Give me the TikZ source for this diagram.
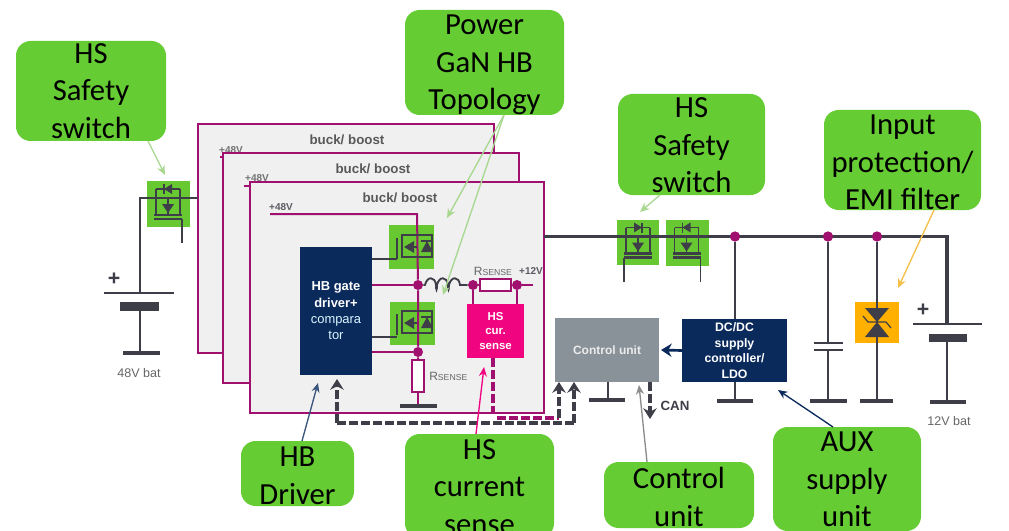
\documentclass[tikz,border=0pt]{standalone}
\usepackage{fontspec}
\setmainfont{Liberation Sans}
\newfontfamily\calib{Carlito}
\usetikzlibrary{arrows.meta}
\definecolor{calloutgreen}{HTML}{66CC33}
\definecolor{fetgreen}{HTML}{68C832}
\definecolor{framepurple}{HTML}{A0106E}
\definecolor{framefill}{HTML}{F0F0F1}
\definecolor{darkline}{HTML}{3E3E48}
\definecolor{navyblock}{HTML}{0A2A5C}
\definecolor{pinkblock}{HTML}{F0047F}
\definecolor{grayblock}{HTML}{8A9299}
\definecolor{tvsorange}{HTML}{FFB000}
\definecolor{softgreen}{HTML}{A8D890}
\definecolor{softorange}{HTML}{F5C04A}
\tikzset{
  wh/.style 2 args={minimum width=#1*0.75pt,minimum height=#2*0.75pt,inner sep=0pt,outer sep=0pt},
  callout/.style={fill=calloutgreen,rounded corners=11pt},
  calltext/.style={align=center,text=black,inner sep=0pt,
    font=\calib\fontsize{23}{28.2}\selectfont},
  frame/.style={draw=framepurple,fill=framefill,line width=1.5pt},
  fetbox/.style={fill=fetgreen},
  wire/.style={draw=darkline,line width=2pt},
  thinwire/.style={draw=darkline,line width=1.2pt},
  pwire/.style={draw=framepurple,line width=1.5pt},
  plate/.style={draw=darkline,line width=3.6pt},
  plateb/.style={draw=darkline,line width=6.5pt},
  thinplate/.style={draw=darkline,line width=1.8pt},
  jdot/.style={circle,fill=framepurple,minimum size=7.5pt,inner sep=0pt},
  blocktext/.style={align=center,text=white,font=\bfseries\fontsize{9.3}{11.7}\selectfont},
  smalllabel/.style={text=darkline!85,font=\bfseries\fontsize{7.5}{9}\selectfont,inner sep=0pt},
  batlabel/.style={text=black!60,font=\fontsize{9.4}{11}\selectfont,inner sep=0pt},
  bucklabel/.style={text=black!65,font=\bfseries\fontsize{10}{12}\selectfont,inner sep=0pt},
  rlabel/.style={text=black!60,inner sep=0pt},
  plabel/.style={text=darkline,font=\bfseries\fontsize{16}{16}\selectfont,inner sep=0pt},
  dashw/.style={draw=darkline,line width=2.6pt,dash pattern=on 6.5pt off 2.5pt},
  dashp/.style={draw=framepurple,line width=2.3pt,dash pattern=on 6.5pt off 2.5pt},
  tip/.style={-{Stealth[length=7pt,width=6pt]}},
  bigtip/.style={-{Stealth[length=8pt,width=10pt]}},
}
% switch on the horizontal rails: centre x, rail y, diode direction, gate-stem side
\newcommand\railfet[4]{%
  \begin{scope}[shift={(#1,#2)}]
    \draw[thinwire] (-12,-9) -- (12,-9) (-12,-9) -- (-12,16) (12,-9) -- (12,16);
    \draw[wire] (-14,17) -- (14,17);
    \draw[wire] (-14,21) -- (14,21);
    \draw[thinwire] (#4*14,21) -- (#4*14,45);
    \draw[thinwire] (0,0) -- (0,16);
    \fill[darkline] (-6,6) -- (6,6) -- (0,15) -- cycle;
    \fill[darkline] (-#3*4,-14) -- (-#3*4,-4) -- (#3*4,-9) -- cycle;
    \draw[thinwire] (#3*4,-14) -- (#3*4,-4);
  \end{scope}}
% half-bridge FET: centre of box
\newcommand\hbfet[2]{%
  \begin{scope}[shift={(#1,#2)}]
    \draw[thinwire] (-9,-12) -- (21,-12) -- (21,10) -- (-9,10) -- cycle;
    \draw[wire] (-14,-9) -- (-14,12);
    \fill[darkline] (-7,0) -- (3,-6) -- (3,6) -- cycle;
    \draw[thinwire] (3,0) -- (6,0);
    \fill[darkline] (10,5) -- (22,5) -- (16,-6) -- cycle;
    \draw[thinwire] (10,-6) -- (22,-6);
  \end{scope}}
\begin{document}
\begin{tikzpicture}[x=0.75pt,y=-0.75pt]
\useasboundingbox (0,0) rectangle (1009,531);
\fill[white] (0,0) rectangle (1009,531);

% frames
\node[frame,wh={296}{229}] (frameA) at (346,238.5) {};
\node[smalllabel,text=black!55] (vA) at (231,150) {+48V};
\coordinate (stubA) at (220,157);
\node[frame,wh={296}{230}] (frameB) at (371,268) {};
\node[bucklabel] (buckA) at (347,140) {buck/ boost};
\node[smalllabel,text=black!55] (vB) at (257,178) {+48V};
\coordinate (stubB) at (244,186);
\node[frame,wh={294}{231}] (frameC) at (397,297.5) {};
\node[bucklabel] (buckB) at (373,169) {buck/ boost};
\node[bucklabel] (buckC) at (400,198) {buck/ boost};
\draw[pwire] (stubA) -- (stubA -| frameB.west);
\draw[pwire] (stubB) -- (stubB -| frameC.west);

% callouts
\node[callout,wh={150}{100}] (calLeft) at (91,91) {};
\node[calltext] (txtLeft) at (91,91) {HS\\Safety\\switch};
\node[callout,wh={159}{105}] (calGan) at (484.5,62.5) {};
\node[calltext] (txtGan) at (484.5,65) {Power\\GaN HB\\Topology};
\node[callout,wh={147}{101}] (calMid) at (691.5,144.5) {};
\node[calltext] (txtMid) at (691.5,145.5) {HS\\Safety\\switch};
\node[callout,wh={157}{100}] (calInput) at (902.5,160) {};
\node[calltext] (txtInput) at (902.5,162.5) {Input\\protection/\\EMI filter};
\node[callout,wh={113}{65}] (calHB) at (297.5,473.5) {};
\node[calltext] (txtHB) at (297.5,475.5) {HB\\Driver};
\node[callout,wh={149}{104}] (calCur) at (479.5,486) {};
\node[calltext] (txtCur) at (479.5,487) {HS\\current\\sense};
\node[callout,wh={150}{66}] (calCtl) at (679,495) {};
\node[calltext] (txtCtl) at (679,497) {Control\\unit};
\node[callout,wh={148}{104}] (calAux) at (847,479) {};
\node[calltext] (txtAux) at (847,479.5) {AUX\\supply\\unit};

% left switch and 48 V battery
\node[fetbox,wh={43}{46}] (fetL) at (168.5,204) {};
\coordinate (railL) at (140,198);
\coordinate (plateL) at (140,293);
\coordinate (railLend) at (198,198);
\coordinate (thickL) at (140,306);
\coordinate (gndL) at (140,353);
\draw[wire] (railLend) -- (railL) -- (plateL);
\railfet{168}{198}{-1}{1}
\draw[wire] (104,293) -- (174,293);
\draw[plateb] (120,306.5) -- (159,306.5);
\draw[wire] (thickL) -- (gndL);
\draw[plate] (123,353) -- (160,353);
\node[plabel] (plusL) at (114,279) {+};
\node[batlabel] (batL) at (139,373) {48V bat};

% main rail
\coordinate (railStart) at (544,236.5);
\coordinate (railCorner) at (947,236.5);
\coordinate (plateR) at (947,324);
\node[fetbox,wh={42}{45}] (fetM1) at (638,242.5) {};
\node[fetbox,wh={43}{46}] (fetM2) at (687.5,243) {};
\node[jdot] (jA) at (735,236.5) {};
\node[jdot] (jB) at (828,236.5) {};
\node[jdot] (jC) at (877,236.5) {};
\draw[wire,line width=2.4pt] (railStart) -- (railCorner) -- (plateR);
\railfet{638}{236.5}{1}{-1}
\railfet{686.5}{236.5}{-1}{1}
\node[jdot] at (735,236.5) {};
\node[jdot] at (828,236.5) {};
\node[jdot] at (877,236.5) {};

% half bridge
\node[smalllabel] (vC) at (281,207) {+48V};
\coordinate (vline) at (270,214);
\coordinate (vcorner) at (417,214);
\node[fetbox,wh={45}{44}] (fetT) at (411.5,247) {};
\node[fetbox,wh={45}{43}] (fetB) at (412.5,323.5) {};
\node[jdot] (jSW) at (418,285) {};
\node[jdot] (jLow) at (418,352) {};
\node[draw=framepurple,fill=white,line width=1.5pt,wh={12}{32}] (rLow) at (418,376) {};
\coordinate (gndLow) at (418,406);
\draw[pwire] (vline) -- (vcorner) -- (jSW) -- (jLow) -- (rLow.north);
\draw[pwire] (rLow.south) -- (gndLow);
\draw[plate] (400,406) -- (437,406);
\hbfet{411}{247}
\hbfet{411}{323}
\node[fill=navyblock,wh={72}{128},align=center,text=white] (driver) at (336,311)
  {\fontsize{9.7}{11.7}\selectfont\bfseries HB gate\\[0.3pt]
   \fontsize{9.7}{11.7}\selectfont\bfseries driver+\\[0.3pt]
   \fontsize{9.7}{11.7}\selectfont\mdseries\color{blue!20!cyan!15!white} compara\\[0.3pt]
   \fontsize{9.7}{11.7}\selectfont\mdseries\color{blue!20!cyan!15!white} tor};
\coordinate (gT) at (397,259);
\coordinate (gB) at (397,337);
\coordinate (gTs) at (372,259);
\coordinate (gBs) at (372,337);
\coordinate (pTs) at (372,285);
\coordinate (pBs) at (372,352);
\draw[wire] (gTs) -- (gT);
\draw[wire] (gBs) -- (gB);
\draw[pwire] (pTs) -- (jSW);
\draw[pwire] (pBs) -- (jLow);
\node[rlabel,anchor=west] (rsLow) at (429,376) {\fontsize{9}{10}\selectfont R\fontsize{6.5}{8}\selectfont SENSE};

% inductor
\node[jdot] (jL) at (473,285) {};
\draw[darkline,line width=1.4pt] (jSW) -- (425,285)
  .. controls (427,276) and (435,276) .. (436,285)
  .. controls (436,291) and (437,291) .. (437,285)
  .. controls (439,276) and (447,276) .. (448,285)
  .. controls (448,291) and (449,291) .. (449,285)
  .. controls (451,276) and (459,276) .. (460,285)
  -- (jL);
\node[draw=framepurple,fill=white,line width=1.5pt,wh={31}{12}] (rHigh) at (495.5,285) {};
\node[jdot] (jH) at (517,285) {};
\coordinate (end12) at (533,285);
\draw[pwire] (jL) -- (rHigh.west);
\draw[pwire] (rHigh.east) -- (jH) -- (end12);
\node[rlabel] (rsHigh) at (493,271) {\fontsize{9}{10}\selectfont R\fontsize{6.5}{8}\selectfont SENSE};
\node[smalllabel] (v12) at (531,271) {+12V};
\node[fill=pinkblock,wh={57}{54},blocktext,font=\bfseries\fontsize{8.6}{11}\selectfont] (sense) at (495.5,331) {HS\\cur.\\sense};
\draw[pwire] (jL) -- (sense.north -| jL);
\draw[pwire] (jH) -- (sense.north -| jH);

% control and supply
\node[fill=grayblock,wh={104}{64},blocktext,font=\bfseries\fontsize{9}{11}\selectfont,text=white!92!black] (ctrl) at (607,350) {Control unit};
\node[fill=navyblock,wh={105}{63},blocktext,font=\bfseries\fontsize{9.2}{11.7}\selectfont] (dcdc) at (734.5,350.5) {DC/DC\\supply\\controller/\\LDO};
\draw[wire] (jA) -- (735,319);
\draw[bigtip,draw=navyblock,line width=2pt] (dcdc.west) -- (661,350);
\coordinate (gndCtl) at (608,400);
\coordinate (gndDc) at (735,401);
\draw[wire] (608,382) -- (gndCtl);
\draw[plate] (589,400) -- (625,400);
\draw[wire] (735,382) -- (gndDc);
\draw[plate] (717,401) -- (753,401);

% capacitor
\coordinate (capT) at (828,343);
\coordinate (capB) at (828,350);
\coordinate (gndCap) at (828,401);
\draw[wire] (jB) -- (capT);
\draw[wire] (capB) -- (gndCap);
\draw[thinplate] (814,343) -- (843,343);
\draw[thinplate] (814,350) -- (843,350);
\draw[plate] (810,401) -- (847,401);

% TVS
\node[fill=tvsorange,wh={44}{41}] (tvs) at (877,322.5) {};
\coordinate (gndTvs) at (877,401);
\draw[wire] (jC) -- (gndTvs);
\fill[darkline] (865,308) -- (889,308) -- (877,322) -- cycle;
\fill[darkline] (865,337) -- (889,337) -- (877,322) -- cycle;
\draw[darkline,line width=0.9pt] (863,316) -- (868,322) -- (886,322) -- (891,328);
\draw[plate] (860,401) -- (893,401);

% 12 V battery
\coordinate (thickR) at (947,338);
\coordinate (gndR) at (947,402);
\draw[wire] (913,324) -- (982,324);
\draw[plateb] (929,338) -- (967,338);
\draw[wire] (thickR) -- (gndR);
\draw[plate] (930,402) -- (966,402);
\node[plabel] (plusR) at (923,310) {+};
\node[batlabel] (batR) at (949,421) {12V bat};

% dashed signal lines
\coordinate (dA) at (337,379);
\coordinate (dB) at (337,423);
\coordinate (dC) at (574,423);
\coordinate (dD) at (574,382);
\draw[dashw,bigtip] (dC) -- (dD);
\draw[dashw] (dC) -- (dB);
\draw[dashw,bigtip] (dB) -- (dA);
\coordinate (pA) at (493,413);
\coordinate (pB) at (497,418);
\coordinate (pC) at (559,418);
\coordinate (pD) at (559,382);
\draw[dashp] (sense.south -| pA) -- (pA);
\draw[dashp] (pB) -- (pC);
\draw[dashw,bigtip] (pC) -- (pD);
\coordinate (canA) at (650,382);
\coordinate (canB) at (650,419);
\draw[dashw,bigtip] (canA) -- (canB);
\node[bucklabel,text=darkline] (canL) at (675,406) {CAN};

% callout pointers
\coordinate (tLeft) at (165,175);
\coordinate (sLeft) at (148,141);
\draw[tip,draw=softgreen,line width=1pt] (sLeft) -- (tLeft);
\coordinate (sGan) at (504,115);
\coordinate (tGanA) at (447,218);
\coordinate (tGanB) at (443,295);
\draw[tip,draw=softgreen,line width=1pt] (sGan) -- (tGanA);
\draw[tip,draw=softgreen,line width=1pt] (sGan) -- (tGanB);
\coordinate (sMid) at (660,195);
\coordinate (tMid) at (640,212);
\draw[tip,draw=softgreen,line width=1pt] (sMid) -- (tMid);
\coordinate (sIn) at (934,210);
\coordinate (tIn) at (898,288);
\draw[tip,draw=softorange,line width=1pt] (sIn) -- (tIn);
\coordinate (sHB) at (302,441);
\coordinate (tHB) at (318,383);
\draw[tip,draw=navyblock!80,line width=1pt] (sHB) -- (tHB);
\coordinate (sCur) at (476,434);
\coordinate (tCur) at (484,367);
\draw[tip,draw=pinkblock,line width=1pt] (sCur) -- (tCur);
\coordinate (sCtl) at (647,462);
\coordinate (tCtl) at (639,385);
\draw[tip,draw=black!45,line width=1pt] (sCtl) -- (tCtl);
\coordinate (sAux) at (833,427);
\coordinate (tAux) at (778,390);
\draw[tip,draw=navyblock,line width=1pt] (sAux) -- (tAux);
\end{tikzpicture}
\end{document}
